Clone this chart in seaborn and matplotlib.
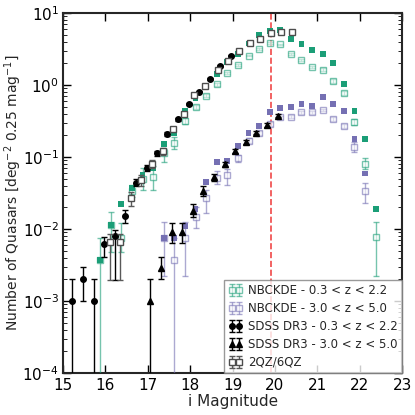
import numpy as np
import pandas as pd
import seaborn as sns
import matplotlib

matplotlib.use("Agg")
import matplotlib.pyplot as plt  # noqa: E402

# ---------------------------------------------------------------------------
# Data
# ---------------------------------------------------------------------------

# NBCKDE 0.3 < z < 2.2 (open) : magnitude, value, errorbar low end, high end
nb_lo_mag = [15.875, 16.125, 16.375, 16.625, 16.875, 17.125, 17.375, 17.625, 17.875,
             18.125, 18.375, 18.625, 18.875, 19.125, 19.375, 19.625, 19.875, 20.125,
             20.375, 20.625, 20.875, 21.125, 21.375, 21.625, 21.875, 22.125, 22.375]
nb_lo_val = [0.0037, 0.0114, 0.0074, 0.034, 0.049, 0.052, 0.115, 0.158, 0.32,
             0.50, 0.71, 1.02, 1.48, 1.88, 2.55, 3.16, 3.83, 3.67,
             2.71, 2.20, 1.76, 1.63, 1.14, 0.774, 0.31, 0.081, 0.0077]
nb_lo_elo = [1e-6, 0.0048, 0.0048, 0.028, 0.035, 0.035, 0.085, 0.13, 0.29,
             0.47, 0.68, 0.98, 1.43, 1.83, 2.49, 3.09, 3.75, 3.59,
             2.64, 2.13, 1.69, 1.56, 1.08, 0.72, 0.28, 0.067, 0.0022]
nb_lo_ehi = [0.0074, 0.0174, 0.0121, 0.041, 0.071, 0.074, 0.13, 0.19, 0.35,
             0.53, 0.74, 1.06, 1.53, 1.93, 2.61, 3.23, 3.91, 3.75,
             2.78, 2.27, 1.83, 1.70, 1.20, 0.83, 0.34, 0.098, 0.0126]

# NBCKDE 0.3 < z < 2.2 (filled)
nbf_lo_mag = nb_lo_mag
nbf_lo_val = [0.0037, 0.0114, 0.0222, 0.0375, 0.056, 0.070, 0.15, 0.218, 0.435,
              0.653, 0.94, 1.42, 2.08, 2.67, 3.75, 4.94, 5.62, 5.75,
              4.31, 3.67, 3.06, 2.70, 2.00, 1.04, 0.44, 0.176, 0.0188]

# NBCKDE 3.0 < z < 5.0 (open)
nb_hi_mag = [17.375, 17.625, 17.875, 18.125, 18.375, 18.625, 18.875, 19.125, 19.375,
             19.625, 19.875, 20.125, 20.375, 20.625, 20.875, 21.125, 21.375, 21.625,
             21.875, 22.125]
nb_hi_val = [0.0074, 0.0037, 0.0074, 0.0148, 0.0267, 0.0516, 0.056, 0.096, 0.168,
             0.213, 0.287, 0.356, 0.363, 0.417, 0.417, 0.45, 0.334, 0.27,
             0.139, 0.034]
nb_hi_elo = [0.0022, 1e-6, 0.0022, 0.0102, 0.0165, 0.0418, 0.041, 0.085, 0.155,
             0.20, 0.27, 0.34, 0.345, 0.40, 0.40, 0.43, 0.315, 0.25,
             0.119, 0.0227]
nb_hi_ehi = [0.0126, 0.0074, 0.0126, 0.0204, 0.0348, 0.064, 0.0675, 0.108, 0.182,
             0.227, 0.305, 0.373, 0.38, 0.435, 0.435, 0.47, 0.354, 0.29,
             0.163, 0.0438]

# NBCKDE 3.0 < z < 5.0 (filled)
nbf_hi_mag = nb_hi_mag
nbf_hi_val = [0.0074, 0.0074, 0.0111, 0.0188, 0.0446, 0.084, 0.089, 0.143, 0.215,
              0.27, 0.417, 0.474, 0.50, 0.545, 0.516, 0.675, 0.545, 0.44,
              0.176, 0.059]

# SDSS DR3 0.3 < z < 2.2
sdss_lo_mag = [15.22, 15.47, 15.72, 15.97, 16.22, 16.47, 16.72, 16.97, 17.21,
               17.46, 17.72, 17.96, 18.21, 18.46, 18.71, 18.96]
sdss_lo_val = [0.001, 0.002, 0.001, 0.0061, 0.0081, 0.0153, 0.044, 0.0697, 0.112,
               0.209, 0.334, 0.544, 0.807, 1.21, 1.84, 2.55]
sdss_lo_elo = [1e-6, 0.001, 1e-6, 0.0041, 0.00195, 0.0122, 0.039, 0.063, 0.104,
               0.198, 0.32, 0.525, 0.785, 1.18, 1.80, 2.50]
sdss_lo_ehi = [0.002, 0.003, 0.002, 0.0078, 0.0097, 0.0184, 0.049, 0.077, 0.12,
               0.22, 0.348, 0.563, 0.83, 1.24, 1.88, 2.60]

# SDSS DR3 3.0 < z < 5.0
sdss_hi_mag = [17.06, 17.31, 17.56, 17.81, 18.06, 18.31, 18.56, 18.81, 19.06,
               19.31, 19.56, 19.81, 20.06]
sdss_hi_val = [0.001, 0.0029, 0.009, 0.009, 0.018, 0.034, 0.052, 0.079, 0.121,
               0.163, 0.218, 0.278, 0.375]
sdss_hi_elo = [1e-6, 0.002, 0.0063, 0.0063, 0.0147, 0.029, 0.046, 0.072, 0.112,
               0.152, 0.205, 0.263, 0.358]
sdss_hi_ehi = [0.002, 0.0041, 0.0121, 0.0121, 0.0222, 0.039, 0.058, 0.086, 0.13,
               0.174, 0.231, 0.293, 0.392]

# 2QZ/6QZ
qz_mag = [16.1, 16.35, 16.6, 16.85, 17.1, 17.35, 17.6, 17.85, 18.1,
          18.35, 18.65, 18.9, 19.15, 19.4, 19.65, 19.9, 20.15, 20.4]
qz_val = [0.0066, 0.0066, 0.027, 0.048, 0.08, 0.12, 0.245, 0.40, 0.73,
          0.98, 1.62, 2.18, 3.0, 3.8, 4.35, 5.33, 5.38, 5.5]
qz_elo = [0.00195, 0.00195, 0.021, 0.04, 0.07, 0.108, 0.228, 0.38, 0.70,
          0.95, 1.58, 2.13, 2.94, 3.73, 4.27, 5.24, 5.29, 5.41]
qz_ehi = [0.0085, 0.0085, 0.033, 0.056, 0.09, 0.132, 0.262, 0.42, 0.76,
          1.01, 1.66, 2.23, 3.06, 3.87, 4.43, 5.42, 5.47, 5.59]

mag_limit = 19.9

GREEN = "#1b9e77"
PURPLE = "#7570b3"


def yerr(val, lo, hi):
    val, lo, hi = np.array(val), np.array(lo), np.array(hi)
    return np.vstack([val - lo, hi - val])


sns.set_style("ticks")
plt.rcParams.update({
    "xtick.direction": "in",
    "ytick.direction": "in",
    "xtick.top": True,
    "ytick.right": True,
    "axes.linewidth": 1.5,
    "xtick.major.size": 6,
    "ytick.major.size": 6,
    "xtick.minor.size": 3,
    "ytick.minor.size": 3,
    "xtick.major.width": 1.0,
    "ytick.major.width": 1.0,
    "xtick.labelsize": 11,
    "ytick.labelsize": 11,
})
plt.rcParams["font.family"] = ["DejaVu Sans"]

fig = plt.figure(figsize=(4.15, 4.15), dpi=100)
ax = fig.add_axes([0.152, 0.101, 0.817, 0.868])

h_nb_lo = ax.errorbar(nb_lo_mag, nb_lo_val, yerr=yerr(nb_lo_val, nb_lo_elo, nb_lo_ehi),
                      fmt="s", mfc="white", mec=GREEN, ecolor=GREEN, ms=4, mew=1,
                      capsize=2, elinewidth=1, alpha=0.6, zorder=3)
h_nb_hi = ax.errorbar(nb_hi_mag, nb_hi_val, yerr=yerr(nb_hi_val, nb_hi_elo, nb_hi_ehi),
                      fmt="s", mfc="white", mec=PURPLE, ecolor=PURPLE, ms=4, mew=1,
                      capsize=2, elinewidth=1, alpha=0.6, zorder=3)

filled = pd.concat([
    pd.DataFrame({"mag": nbf_lo_mag, "val": nbf_lo_val, "grp": "lo"}),
    pd.DataFrame({"mag": nbf_hi_mag, "val": nbf_hi_val, "grp": "hi"}),
])
sns.scatterplot(data=filled, x="mag", y="val", hue="grp", palette={"lo": GREEN, "hi": PURPLE},
                marker="s", s=18, linewidth=0, legend=False, ax=ax, zorder=4)

h_sdss_lo = ax.errorbar(sdss_lo_mag, sdss_lo_val, yerr=yerr(sdss_lo_val, sdss_lo_elo, sdss_lo_ehi),
                        fmt="o", color="black", ms=4, capsize=2, elinewidth=1, zorder=5)
h_sdss_hi = ax.errorbar(sdss_hi_mag, sdss_hi_val, yerr=yerr(sdss_hi_val, sdss_hi_elo, sdss_hi_ehi),
                        fmt="^", color="black", ms=4, capsize=2, elinewidth=1, zorder=5)
h_qz = ax.errorbar(qz_mag, qz_val, yerr=yerr(qz_val, qz_elo, qz_ehi),
                   fmt="s", mfc="white", mec="0.3", ecolor="0.35", ms=4, mew=1,
                   capsize=2, elinewidth=1, zorder=6)

ax.axvline(mag_limit, color="#f04848", linestyle="--", linewidth=1.2, zorder=2)

ax.set_yscale("log")
ax.set_xlim(15, 23)
ax.set_ylim(1e-4, 10)
ax.set_xticks(range(15, 24))
ax.set_xlabel("i Magnitude", fontsize=11, labelpad=1)
ax.set_ylabel(r"Number of Quasars [deg$^{-2}$ 0.25 mag$^{-1}$]", fontsize=10)
ax.yaxis.set_label_coords(-0.116, 0.5)
ax.tick_params(axis="both", which="both", colors="black")
ax.tick_params(axis="x", pad=3.5)
ax.tick_params(axis="y", pad=3)

ax.legend([h_nb_lo, h_nb_hi, h_sdss_lo, h_sdss_hi, h_qz],
          ["NBCKDE - 0.3 < z < 2.2", "NBCKDE - 3.0 < z < 5.0",
           "SDSS DR3 - 0.3 < z < 2.2", "SDSS DR3 - 3.0 < z < 5.0", "2QZ/6QZ"],
          loc="lower right", numpoints=2, fontsize=8.5, borderaxespad=0,
          fancybox=False, edgecolor="0.5", labelspacing=0.42,
          handletextpad=0.5, handlelength=1.2, borderpad=0.35)

fig.savefig("out.png", dpi=100)
